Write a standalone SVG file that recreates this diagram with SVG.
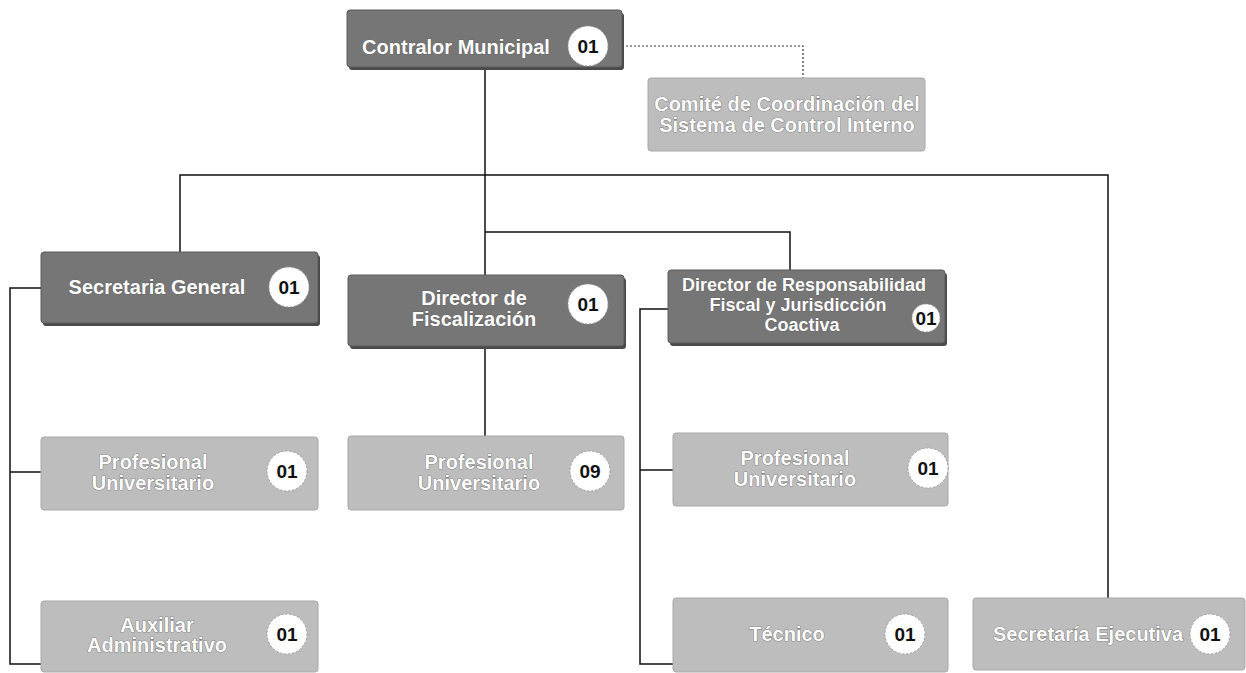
<svg xmlns="http://www.w3.org/2000/svg" width="1246" height="673" viewBox="0 0 1246 673">
<style>
.dark{fill:#767676;stroke:#5a5a5a;stroke-width:1}
.light{fill:#bdbdbd;stroke:#a8a8a8;stroke-width:1}
.sh{fill:#4a4a4a}
.lbl{font-family:"Liberation Sans",Arial,sans-serif;font-weight:bold;font-size:20px;fill:#ffffff;stroke:#555;stroke-width:0.7;paint-order:stroke;text-anchor:middle}
.sm{font-size:18px}
.circ{fill:#ffffff;stroke:#9a9a9a;stroke-width:1;stroke-dasharray:2 2}
.num{font-family:"Liberation Sans",Arial,sans-serif;font-weight:bold;font-size:19px;fill:#111;text-anchor:middle}
.ln{fill:none;stroke:#111;stroke-width:1.5}
.dot{fill:none;stroke:#333;stroke-width:1.2;stroke-dasharray:2 2}
</style>
<rect width="1246" height="673" fill="#ffffff"/>
<g id="connectors">
<path class="dot" d="M610 46 H803 V78"/>
<path class="ln" d="M485 68 V275"/>
<path class="ln" d="M180 252 V175 H1108 V598"/>
<path class="ln" d="M485 232 H790 V270"/>
<path class="ln" d="M41 288 H10 V664 H41 M10 472 H41"/>
<path class="ln" d="M485 347 V436"/>
<path class="ln" d="M668 309 H640 V664 H673 M640 470 H673"/>
</g>
<g id="contralor">
<rect class="sh" x="349" y="13" width="275" height="57" rx="3"/>
<rect class="dark" x="347" y="10" width="275" height="57" rx="3"/>
<text class="lbl" x="456" y="54">Contralor Municipal</text>
<circle class="circ" cx="588" cy="46" r="20"/>
<text class="num" x="588" y="53">01</text>
</g>
<g id="comite">
<rect class="light" x="648" y="78" width="277" height="73" rx="3"/>
<text class="lbl" x="787" y="111">Comité de Coordinación del</text>
<text class="lbl" x="787" y="132">Sistema de Control Interno</text>
</g>
<g id="secretaria-general">
<rect class="sh" x="43" y="255" width="277" height="71" rx="3"/>
<rect class="dark" x="41" y="252" width="277" height="71" rx="3"/>
<text class="lbl" x="157" y="294">Secretaria General</text>
<circle class="circ" cx="289" cy="287" r="20"/>
<text class="num" x="289" y="294">01</text>
</g>
<g id="director-fiscalizacion">
<rect class="sh" x="350" y="278" width="276" height="71" rx="3"/>
<rect class="dark" x="348" y="275" width="276" height="71" rx="3"/>
<text class="lbl" x="474" y="305">Director de</text>
<text class="lbl" x="474" y="326">Fiscalización</text>
<circle class="circ" cx="588" cy="304" r="20"/>
<text class="num" x="588" y="311">01</text>
</g>
<g id="director-responsabilidad">
<rect class="sh" x="670" y="273" width="277" height="73" rx="3"/>
<rect class="dark" x="668" y="270" width="277" height="73" rx="3"/>
<text class="lbl sm" x="804" y="291">Director de Responsabilidad</text>
<text class="lbl sm" x="798" y="311">Fiscal y Jurisdicción</text>
<text class="lbl sm" x="802" y="331">Coactiva</text>
<circle class="circ" cx="926" cy="318" r="14"/>
<text class="num" x="926" y="325">01</text>
</g>
<g id="profesional-1">
<rect class="light" x="41" y="437" width="277" height="73" rx="3"/>
<text class="lbl" x="153" y="469">Profesional</text>
<text class="lbl" x="153" y="490">Universitario</text>
<circle class="circ" cx="287" cy="471" r="20"/>
<text class="num" x="287" y="478">01</text>
</g>
<g id="profesional-9">
<rect class="light" x="348" y="436" width="276" height="74" rx="3"/>
<text class="lbl" x="479" y="469">Profesional</text>
<text class="lbl" x="479" y="490">Universitario</text>
<circle class="circ" cx="590" cy="471" r="20"/>
<text class="num" x="590" y="478">09</text>
</g>
<g id="profesional-3">
<rect class="light" x="673" y="433" width="275" height="73" rx="3"/>
<text class="lbl" x="795" y="465">Profesional</text>
<text class="lbl" x="795" y="486">Universitario</text>
<circle class="circ" cx="928" cy="468" r="20"/>
<text class="num" x="928" y="475">01</text>
</g>
<g id="auxiliar">
<rect class="light" x="41" y="601" width="277" height="71" rx="3"/>
<text class="lbl" x="157" y="632">Auxiliar</text>
<text class="lbl" x="157" y="652">Administrativo</text>
<circle class="circ" cx="287" cy="634" r="20"/>
<text class="num" x="287" y="641">01</text>
</g>
<g id="tecnico">
<rect class="light" x="673" y="598" width="275" height="74" rx="3"/>
<text class="lbl" x="787" y="641">Técnico</text>
<circle class="circ" cx="905" cy="634" r="20"/>
<text class="num" x="905" y="641">01</text>
</g>
<g id="secretaria-ejecutiva">
<rect class="light" x="973" y="598" width="272" height="72" rx="3"/>
<text class="lbl" x="1088" y="641">Secretaría Ejecutiva</text>
<circle class="circ" cx="1210" cy="634" r="20"/>
<text class="num" x="1210" y="641">01</text>
</g>
</svg>
